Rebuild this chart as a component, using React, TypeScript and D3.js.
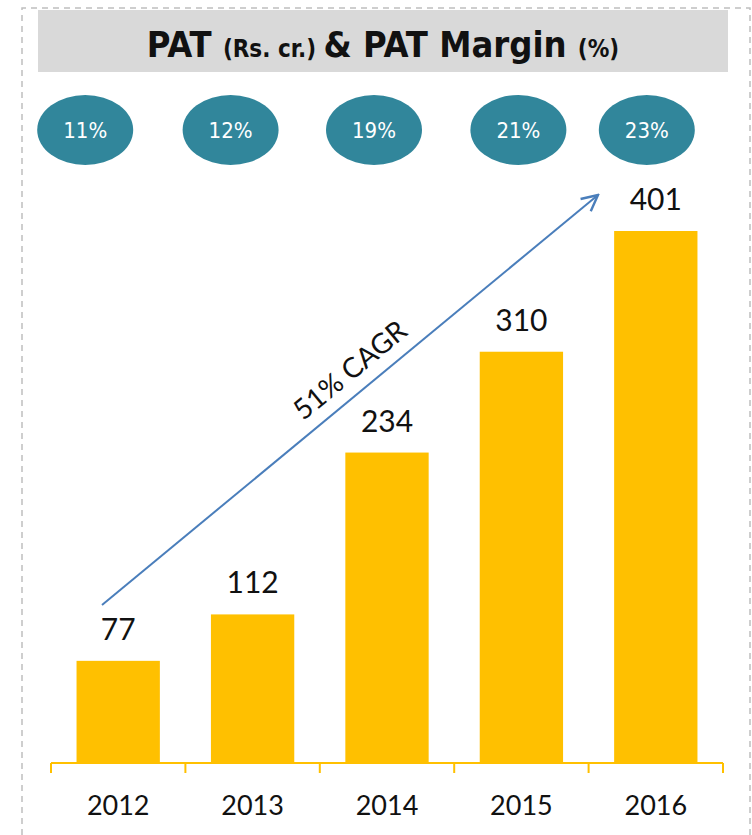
import React, { useEffect, useRef } from 'react';
import * as d3 from 'd3';

const years = ['2012', '2013', '2014', '2015', '2016'];
const pat = [77, 112, 234, 310, 401];
const margins = ['11%', '12%', '19%', '21%', '23%'];
// bubble centres sit a little left of the bars in the original slide
const bubbleOffsets = [-33, -22, -13, -3, -9];

const W = 752;
const H = 835;

const App: React.FC = () => {
  const ref = useRef<SVGSVGElement>(null);

  useEffect(() => {
    const svg = d3.select(ref.current);
    svg.selectAll('*').remove();

    const numFont = 'Lato, "Open Sans", sans-serif';
    const titleFont = '"DejaVu Sans Condensed", "DejaVu Sans", sans-serif';

    // dashed frame
    svg.append('path')
      .attr('d', `M22,835 L22,8 L750,8 L750,835`)
      .attr('fill', 'none')
      .attr('stroke', '#bfbfbf')
      .attr('stroke-width', 1.5)
      .attr('stroke-dasharray', '6,5');

    // title
    svg.append('rect')
      .attr('x', 38).attr('y', 10).attr('width', 690).attr('height', 62)
      .attr('fill', '#d9d9d9');

    const title = svg.append('text')
      .attr('x', 383).attr('y', 57)
      .attr('text-anchor', 'middle')
      .attr('font-family', titleFont)
      .attr('font-weight', 'bold')
      .attr('fill', '#111');
    title.append('tspan').attr('font-size', 36).text('PAT ');
    title.append('tspan').attr('font-size', 24).text('(Rs. cr.) ');
    title.append('tspan').attr('font-size', 36).text('& PAT Margin ');
    title.append('tspan').attr('font-size', 24).text('(%)');

    const x = d3.scaleBand()
      .domain(years)
      .range([51, 723])
      .paddingInner(0.38)
      .paddingOuter(0.19);

    const y = d3.scaleLinear()
      .domain([0, 401])
      .range([763, 231]);

    // axis
    const step = x.step();
    const axis = svg.append('g').attr('stroke', '#ffc000').attr('stroke-width', 2);
    axis.append('line').attr('x1', 51).attr('x2', 723).attr('y1', 763).attr('y2', 763);
    d3.range(years.length + 1).forEach(i => {
      const tx = 51 + i * step;
      axis.append('line').attr('x1', tx).attr('x2', tx).attr('y1', 763).attr('y2', 773);
    });

    // bars
    svg.selectAll('rect.bar')
      .data(pat)
      .join('rect')
      .attr('class', 'bar')
      .attr('x', (_, i) => x(years[i])!)
      .attr('width', x.bandwidth())
      .attr('y', d => y(d))
      .attr('height', d => y(0) - y(d))
      .attr('fill', '#ffc000');

    // value labels
    svg.selectAll('text.val')
      .data(pat)
      .join('text')
      .attr('class', 'val')
      .attr('x', (_, i) => x(years[i])! + x.bandwidth() / 2)
      .attr('y', d => y(d) - 21)
      .attr('text-anchor', 'middle')
      .attr('font-family', numFont)
      .attr('font-size', 30)
      .attr('fill', '#111')
      .text(d => d);

    // category labels
    svg.selectAll('text.cat')
      .data(years)
      .join('text')
      .attr('class', 'cat')
      .attr('x', d => x(d)! + x.bandwidth() / 2)
      .attr('y', 815)
      .attr('text-anchor', 'middle')
      .attr('font-family', numFont)
      .attr('font-size', 27)
      .attr('fill', '#111')
      .text(d => d);

    // margin bubbles
    const bub = svg.selectAll('g.bub')
      .data(margins)
      .join('g')
      .attr('class', 'bub')
      .attr('transform', (_, i) => `translate(${x(years[i])! + x.bandwidth() / 2 + bubbleOffsets[i]},130)`);
    bub.append('ellipse').attr('rx', 48).attr('ry', 35).attr('fill', '#31869b');
    bub.append('text')
      .attr('y', 8)
      .attr('text-anchor', 'middle')
      .attr('font-family', titleFont)
      .attr('font-size', 22)
      .attr('fill', '#fff')
      .text(d => d);

    // CAGR arrow
    const defs = svg.append('defs');
    defs.append('marker')
      .attr('id', 'arrow')
      .attr('viewBox', '0 0 10 10')
      .attr('refX', 9).attr('refY', 5)
      .attr('markerWidth', 20).attr('markerHeight', 20)
      .attr('markerUnits', 'userSpaceOnUse')
      .attr('orient', 'auto')
      .append('path')
      .attr('d', 'M1,1 L9,5 L1,9')
      .attr('fill', 'none')
      .attr('stroke', '#4a7ebb')
      .attr('stroke-width', 1.2);

    const x0 = 102, y0 = 605, x1 = 598, y1 = 195;
    svg.append('line')
      .attr('x1', x0).attr('y1', y0).attr('x2', x1).attr('y2', y1)
      .attr('stroke', '#4a7ebb')
      .attr('stroke-width', 2)
      .attr('marker-end', 'url(#arrow)');

    const ang = Math.atan2(y1 - y0, x1 - x0) * 180 / Math.PI;
    svg.append('text')
      .attr('transform', `translate(350,370) rotate(${ang})`)
      .attr('text-anchor', 'middle')
      .attr('dy', '0.35em')
      .attr('font-family', numFont)
      .attr('font-size', 28)
      .attr('fill', '#111')
      .text('51% CAGR');
  }, []);

  return (
    <div style={{ position: 'absolute', left: 0, top: 0 }}>
      <svg ref={ref} width={W} height={H} style={{ display: 'block', background: '#fff' }} />
    </div>
  );
};

export default App;
